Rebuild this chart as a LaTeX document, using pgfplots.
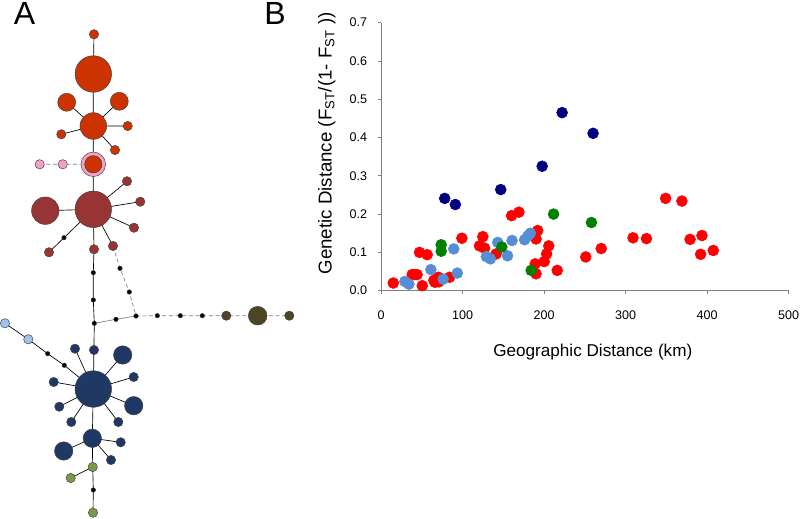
\documentclass[border=0pt]{standalone}
\usepackage{fontspec}
\setmainfont{Liberation Sans}
\usepackage{pgfplots}
\pgfplotsset{compat=1.18}
\definecolor{cRed}{RGB}{255,0,0}
\definecolor{cNavy}{RGB}{0,0,128}
\definecolor{cGreen}{RGB}{0,128,0}
\definecolor{cLBlue}{RGB}{85,142,213}
\definecolor{nOrange}{RGB}{204,51,0}
\definecolor{nPink}{RGB}{242,160,200}
\definecolor{nDRed}{RGB}{152,52,52}
\definecolor{nOlive}{RGB}{77,69,38}
\definecolor{nLBlue}{RGB}{157,195,230}
\definecolor{nNavy}{RGB}{31,56,100}
\definecolor{nGreen}{RGB}{122,154,74}
\pgfplotsset{
  nn/.style 2 args={only marks, mark=*, mark size=#2,
    mark options={draw=black!75, fill=#1, line width=0.35pt}},
  dots/.style={only marks, mark=*, mark size=4.1pt, mark options={draw=#1, fill=#1}},
}
\begin{document}
\begin{tikzpicture}[x=1pt,y=1pt]
\useasboundingbox (0,0) rectangle (600,388.5);
% ---------------- Panel A: haplotype network ----------------
\begin{axis}[at={(0pt,0pt)}, anchor=south west, x=0.75pt, y=0.75pt,
  xmin=0, xmax=300, ymin=-518, ymax=0, hide axis, clip=false,
  unbounded coords=jump]
% solid edges
\addplot[black, line width=0.5pt, mark=none] coordinates {
 (94,-34.3) (93.3,-74) (93.3,-126) (93.3,-164.3) (93.3,-209.3) (94,-249.3) (93.3,-272.7) (93.3,-300) (94.3,-323.3) (93.3,-389) (92.3,-438.3) (92.7,-467) (93.3,-490) (93,-512.7) (nan,nan)
 (93.3,-126) (66.7,-102.3) (nan,nan)
 (93.3,-126) (119.3,-101.3) (nan,nan)
 (93.3,-126) (61.3,-134.3) (nan,nan)
 (93.3,-126) (127.7,-126) (nan,nan)
 (93.3,-126) (115,-150) (nan,nan)
 (93.3,-209.3) (45.3,-210.7) (nan,nan)
 (93.3,-209.3) (127,-181.3) (nan,nan)
 (93.3,-209.3) (140.3,-201.7) (nan,nan)
 (93.3,-209.3) (134,-227.7) (nan,nan)
 (93.3,-209.3) (113,-246) (nan,nan)
 (93.3,-209.3) (64,-237.7) (49,-252.3) (nan,nan)
 (93.3,-389) (75,-348.7) (nan,nan)
 (93.3,-389) (94,-350) (nan,nan)
 (93.3,-389) (122.7,-355) (nan,nan)
 (93.3,-389) (133.7,-377) (nan,nan)
 (93.3,-389) (133.7,-405.7) (nan,nan)
 (93.3,-389) (118.3,-422) (nan,nan)
 (93.3,-389) (71.3,-422) (nan,nan)
 (93.3,-389) (59.3,-406.7) (nan,nan)
 (93.3,-389) (53.7,-382) (nan,nan)
 (5,-323.3) (28.3,-339.3) (47.7,-353.7) (64.3,-365.3) (93.3,-389) (nan,nan)
 (92.3,-438.3) (63.7,-451) (nan,nan)
 (92.3,-438.3) (120.7,-442.3) (nan,nan)
 (92.3,-438.3) (111,-460) (nan,nan)
 (92.7,-467) (70.7,-478)
};
% grey dashed edges
\addplot[gray, line width=0.5pt, densely dashed, mark=none] coordinates {
 (39.7,-164.3) (62.7,-164.3) (93.3,-164.3) (nan,nan)
 (113,-246) (120,-268.3) (129.3,-292) (136,-316) (157.3,-315.7) (180.3,-315.7) (202.3,-315.7) (226.3,-315.7) (257.7,-315.7) (289.3,-315.7)
};
\addplot[gray, line width=0.5pt, mark=none] coordinates {
 (94.3,-323.3) (116,-319.3) (136,-316)
};
% nodes (mark size = 0.75 * radius in px)
\addplot[nn={nOrange}{3.5pt}] coordinates {(94,-34.3) (61.3,-134.3) (127.7,-126) (115,-150)};
\addplot[nn={nOrange}{6.75pt}] coordinates {(66.7,-102.3) (119.3,-101.3)};
\addplot[nn={nOrange}{10pt}] coordinates {(93.3,-126)};
\addplot[nn={nOrange}{13.7pt}] coordinates {(93.3,-74)};
\addplot[nn={nPink}{9.2pt}] coordinates {(93.3,-164.3)};
\addplot[nn={nOrange}{6.5pt}] coordinates {(93.3,-164.3)};
\addplot[nn={nPink}{3.5pt}] coordinates {(39.7,-164.3) (62.7,-164.3)};
\addplot[nn={nDRed}{13.7pt}] coordinates {(93.3,-209.3)};
\addplot[nn={nDRed}{10.3pt}] coordinates {(45.3,-210.7)};
\addplot[nn={nDRed}{3.5pt}] coordinates {(127,-181.3) (140.3,-201.7) (134,-227.7) (113,-246) (94,-249.3) (49,-252.3)};
\addplot[nn={black}{1.7pt}] coordinates {
 (64,-237.7) (93.3,-272.7) (93.3,-300) (94.3,-323.3) (120,-268.3) (129.3,-292) (136,-316) (116,-319.3)
 (157.3,-315.7) (180.3,-315.7) (202.3,-315.7) (47.7,-353.7) (64.3,-365.3) (93.3,-490)};
\addplot[nn={nOlive}{3.5pt}] coordinates {(226.3,-315.7) (289.3,-315.7)};
\addplot[nn={nOlive}{7pt}] coordinates {(257.7,-315.7)};
\addplot[nn={nLBlue}{3.5pt}] coordinates {(5,-323.3) (28.3,-339.3)};
\addplot[nn={nNavy}{13.7pt}] coordinates {(93.3,-389)};
\addplot[nn={nNavy}{6.9pt}] coordinates {(122.7,-355) (133.7,-405.7) (92.3,-438.3) (63.7,-451)};
\addplot[nn={nNavy}{3.5pt}] coordinates {
 (75,-348.7) (94,-350) (133.7,-377) (118.3,-422) (71.3,-422) (59.3,-406.7) (53.7,-382) (120.7,-442.3) (111,-460)};
\addplot[nn={nGreen}{3.5pt}] coordinates {(92.7,-467) (70.7,-478) (93,-512.7)};
\end{axis}
% ---------------- Panel B: scatter ----------------
\begin{axis}[at={(285.9pt,170.5pt)}, anchor=south west, scale only axis,
  width=305.6pt, height=201pt,
  xmin=0, xmax=500, ymin=0, ymax=0.7, enlargelimits=false, clip=false,
  axis x line*=bottom, axis y line*=left,
  axis line style={-, draw=gray, line width=0.6pt},
  tick style={draw=gray, line width=0.6pt}, tick align=outside,
  major tick length=2.5pt,
  xtick={0,100,200,300,400,500},
  ytick={0,0.1,0.2,0.3,0.4,0.5,0.6,0.7},
  /pgf/number format/assume math mode=true,
  yticklabel style={xshift=-4.5pt, /pgf/number format/.cd, fixed, fixed zerofill, precision=1},
  xticklabel style={yshift=-9pt, /pgf/number format/.cd, fixed, precision=0},
  tick label style={font=\fontsize{9.4}{11}\selectfont},
]
\addplot[dots=cRed] table {
14.8 0.020
38 0.042
41 0.042
44 0.042
50.4 0.013
47 0.100
56.4 0.094
64.6 0.027
66 0.022
68.7 0.031
70.7 0.023
72.7 0.032
70 0.035
84 0.035
99 0.137
124.7 0.141
120.6 0.117
126.8 0.111
141 0.096
160 0.196
169 0.205
192 0.157
190 0.135
205.6 0.117
203 0.096
200 0.076
189 0.070
190 0.044
216 0.053
251 0.088
270 0.110
309 0.138
325.5 0.136
349 0.241
369 0.234
379 0.134
393.6 0.144
392 0.095
407.5 0.105
};
\addplot[dots=cLBlue] table {
29 0.024
34 0.017
61 0.055
76 0.030
89 0.109
93.4 0.046
129 0.089
134 0.083
143 0.126
155 0.091
160.6 0.131
176 0.133
180 0.143
183 0.150
};
\addplot[dots=cGreen] table {
73.6 0.120
73.6 0.103
148 0.114
211.5 0.200
258 0.178
184 0.053
};
\addplot[dots=cNavy] table {
77.9 0.241
91 0.225
146.7 0.264
197.5 0.325
222 0.465
260 0.411
};
\end{axis}
% axis titles and panel letters
\node[anchor=base, font=\fontsize{12.85}{15}\selectfont] at (444.6,121) {Geographic Distance (km)};
\node[rotate=90, font=\fontsize{14}{16}\selectfont] at (245,280.9) {Genetic Distance (F\textsubscript{ST}/(1- F\textsubscript{ST} ))};
\node[font=\fontsize{24}{28}\selectfont] at (18.4,378.4) {A};
\node[font=\fontsize{24}{28}\selectfont] at (206.25,378.4) {B};
\end{tikzpicture}
\end{document}
